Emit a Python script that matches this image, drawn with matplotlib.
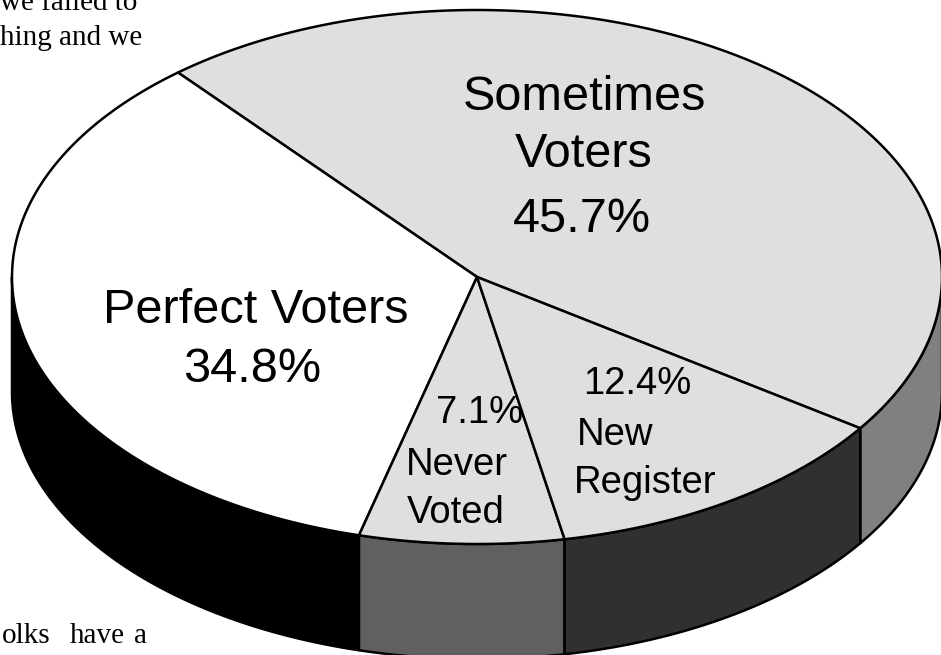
import numpy as np
import matplotlib
matplotlib.use("Agg")
import matplotlib.pyplot as plt
from matplotlib.patches import Polygon

# Voter categories and their shares (%)
categories = ["Sometimes Voters", "Perfect Voters", "Never Voted", "New Register"]
shares = [45.7, 34.8, 7.1, 12.4]
value_labels = ["45.7%", "34.8%", "7.1%", "12.4%"]

top_colors = ["#dfdfdf", "#ffffff", "#dfdfdf", "#dfdfdf"]
side_colors = ["#808080", "#000000", "#606060", "#303030"]

# Geometry of the tilted disc (pixel units)
cx, cy = 477.0, 277.0
rx, ry = 465.0, 267.0
depth = 115.0
start_angle = -34.5

fig = plt.figure(figsize=(9.41, 6.55), dpi=100)
ax = fig.add_axes([0, 0, 1, 1])
ax.set_xlim(0, 941)
ax.set_ylim(655, 0)
ax.axis("off")


def rim(t0, t1, dy=0.0, n=200):
    t = np.radians(np.linspace(t0, t1, n))
    return np.column_stack([cx + rx * np.cos(t), cy - ry * np.sin(t) + dy])


# wedge boundaries
bounds = [start_angle]
for s in shares:
    bounds.append(bounds[-1] + s / 100.0 * 360.0)

# side walls (only the front half of the disc is visible)
for i in range(len(shares)):
    t0, t1 = bounds[i], bounds[i + 1]
    for shift in (-360.0, 0.0, 360.0):
        a0 = max(t0 + shift, 180.0)
        a1 = min(t1 + shift, 360.0)
        if a1 > a0:
            top = rim(a0, a1)
            bottom = rim(a0, a1, depth)[::-1]
            ax.add_patch(Polygon(np.vstack([top, bottom]), closed=True,
                                 facecolor=side_colors[i], edgecolor="black",
                                 linewidth=1.8, joinstyle="round", zorder=2))

# top faces
for i in range(len(shares)):
    arc = rim(bounds[i], bounds[i + 1])
    pts = np.vstack([[cx, cy], arc])
    ax.add_patch(Polygon(pts, closed=True, facecolor=top_colors[i],
                         edgecolor="black", linewidth=1.8, joinstyle="round",
                         zorder=3))

sans = "Liberation Sans"
big = 35
small = 27.5

# Sometimes Voters
ax.text(585, 110, "Sometimes", fontsize=big, family=sans, ha="center", va="baseline", zorder=5)
ax.text(584, 167, "Voters", fontsize=big, family=sans, ha="center", va="baseline", zorder=5)
ax.text(582, 232, value_labels[0], fontsize=big, family=sans, ha="center", va="baseline", zorder=5)

# Perfect Voters
ax.text(256, 323, "Perfect Voters", fontsize=big, family=sans, ha="center", va="baseline", zorder=5)
ax.text(252, 382, value_labels[1], fontsize=big, family=sans, ha="center", va="baseline", zorder=5)

# Never Voted
ax.text(480, 423, value_labels[2], fontsize=small, family=sans, ha="center", va="baseline", zorder=5)
ax.text(406, 475, "Never", fontsize=small, family=sans, ha="left", va="baseline", zorder=5)
ax.text(407, 523, "Voted", fontsize=small, family=sans, ha="left", va="baseline", zorder=5)

# New Register
ax.text(637, 394, value_labels[3], fontsize=small, family=sans, ha="center", va="baseline", zorder=5)
ax.text(577, 445, "New", fontsize=small, family=sans, ha="left", va="baseline", zorder=5)
ax.text(574, 493, "Register", fontsize=small, family=sans, ha="left", va="baseline", zorder=5)

# surrounding page text
serif = "Liberation Serif"
ax.text(0, 10, "we failed to", fontsize=21, family=serif, ha="left", va="baseline", zorder=1)
ax.text(0, 45, "hing and we", fontsize=21, family=serif, ha="left", va="baseline", zorder=1)
ax.text(2, 643, "olks", fontsize=21, family=serif, ha="left", va="baseline", zorder=1)
ax.text(70, 643, "have", fontsize=21, family=serif, ha="left", va="baseline", zorder=1)
ax.text(134, 643, "a", fontsize=21, family=serif, ha="left", va="baseline", zorder=1)

fig.savefig("out.png", dpi=100)
